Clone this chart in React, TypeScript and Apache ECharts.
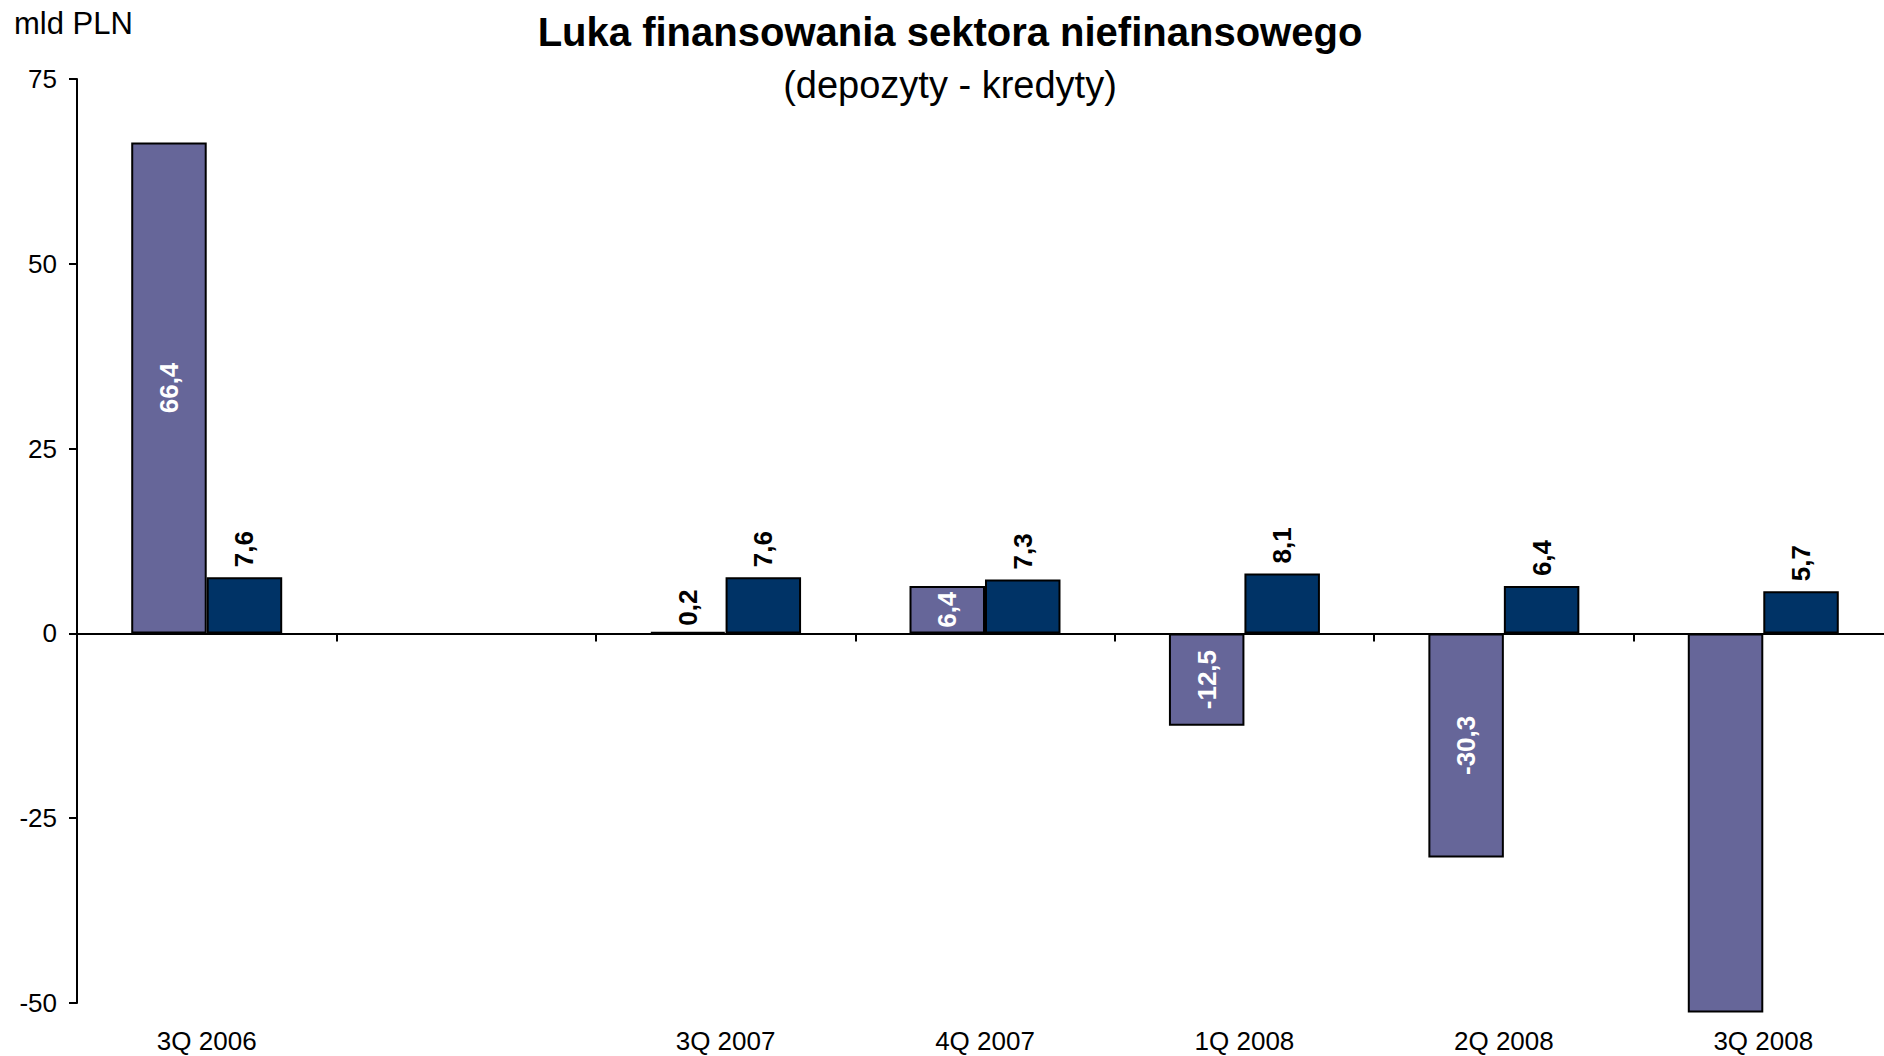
import React, { useEffect, useRef } from "react";
import * as echarts from "echarts";

const categories = ["3Q 2006", "", "3Q 2007", "4Q 2007", "1Q 2008", "2Q 2008", "3Q 2008"];
const gapA = [66.4, null, 0.2, 6.4, -12.5, -30.3, -51.3];
const gapB = [7.6, null, 7.6, 7.3, 8.1, 6.4, 5.7];
const yMin = -50;
const yMax = 75;
const yStep = 25;

const FONT = '"Liberation Sans", Arial, sans-serif';
const fmt = (p: any) => String(p.value).replace(".", ",");

export default function App() {
  const ref = useRef<HTMLDivElement>(null);
  useEffect(() => {
    document.body.style.margin = "0";
    document.body.style.overflow = "hidden";
    const chart = echarts.init(ref.current!, null, { renderer: "svg" });
    const dataA = gapA.map((v, i) => {
      if (v === null) return null;
      if (i === 2) {
        return {
          value: v,
          label: { position: "top", align: "left", verticalAlign: "middle", color: "#000", distance: 6 },
        };
      }
      if (v < yMin) return { value: v, label: { show: false } };
      return v;
    });
    chart.setOption({
      animation: false,
      backgroundColor: "#fff",
      textStyle: { fontFamily: FONT },
      grid: { left: 77, top: 79, right: 7, bottom: 53, containLabel: false },
      graphic: [
        {
          type: "text",
          x: 950,
          y: 32,
          style: {
            text: "Luka finansowania sektora niefinansowego",
            fontFamily: FONT,
            fontSize: 40,
            fontWeight: "bold",
            fill: "#000",
            align: "center",
            verticalAlign: "middle",
          },
        },
        {
          type: "text",
          x: 950,
          y: 85,
          style: {
            text: "(depozyty - kredyty)",
            fontFamily: FONT,
            fontSize: 38,
            fill: "#000",
            align: "center",
            verticalAlign: "middle",
          },
        },
        {
          type: "text",
          x: 14,
          y: 23,
          style: {
            text: "mld PLN",
            fontFamily: FONT,
            fontSize: 31,
            fill: "#000",
            align: "left",
            verticalAlign: "middle",
          },
        },
      ],
      xAxis: [
        {
          type: "category",
          data: categories,
          position: "bottom",
          axisLine: { show: false, onZero: false },
          axisTick: { show: false },
          axisLabel: { fontSize: 26, color: "#000", fontFamily: FONT, margin: 25, interval: 0 },
        },
        {
          type: "category",
          data: categories,
          position: "bottom",
          axisLine: { show: true, onZero: true, lineStyle: { color: "#000", width: 2 } },
          axisTick: { show: true, length: 8, lineStyle: { color: "#000", width: 2 } },
          axisLabel: { show: false },
        },
      ],
      yAxis: {
        type: "value",
        min: yMin,
        max: yMax,
        interval: yStep,
        axisLine: { show: true, lineStyle: { color: "#000", width: 2 } },
        axisTick: { show: true, length: 8, lineStyle: { color: "#000", width: 2 } },
        splitLine: { show: false },
        axisLabel: { fontSize: 26, color: "#000", fontFamily: FONT, margin: 20 },
      },
      series: [
        {
          name: "Luka A",
          type: "bar",
          xAxisIndex: 0,
          data: dataA,
          barGap: "0%",
          barCategoryGap: "41.8%",
          clip: false,
          itemStyle: { color: "#666699", borderColor: "#000", borderWidth: 2 },
          label: {
            show: true,
            position: "inside",
            rotate: 90,
            color: "#fff",
            fontSize: 26,
            fontWeight: "bold",
            fontFamily: FONT,
            formatter: fmt,
          },
          z: 2,
        },
        {
          name: "Luka B",
          type: "bar",
          xAxisIndex: 0,
          data: gapB,
          barGap: "0%",
          barCategoryGap: "41.8%",
          itemStyle: { color: "#003366", borderColor: "#000", borderWidth: 2 },
          label: {
            show: true,
            position: "top",
            rotate: 90,
            align: "left",
            verticalAlign: "middle",
            distance: 10,
            color: "#000",
            fontSize: 26,
            fontWeight: "bold",
            fontFamily: FONT,
            formatter: fmt,
          },
          z: 2,
        },
      ],
    });
    return () => chart.dispose();
  }, []);
  return <div ref={ref} style={{ width: 1900, height: 1056 }} />;
}
